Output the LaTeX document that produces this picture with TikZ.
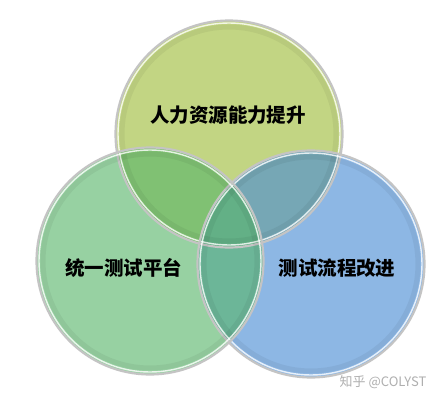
\documentclass[tikz,border=0pt]{standalone}
\usepackage{fontspec}
\newfontfamily\cjk{Noto Sans CJK SC}
\definecolor{ctop}{RGB}{158,188,55}
\definecolor{cleft}{RGB}{88,182,106}
\definecolor{cright}{RGB}{72,140,212}
\definecolor{rimgray}{RGB}{196,196,196}
\definecolor{wmgray}{RGB}{175,175,175}
\begin{document}
\begin{tikzpicture}[x=1pt,y=-1pt,
  disc/.style={circle, minimum size=226pt, inner sep=0pt, fill opacity=0.62},
  rim/.style={circle, minimum size=227pt, inner sep=0pt, draw=rimgray, line width=2.2pt},
  shine/.style={circle, minimum size=222pt, inner sep=0pt, draw=white, line width=1.4pt, draw opacity=0.8},
  inshade/.style={circle, minimum size=214pt, inner sep=0pt, draw=black, line width=5pt, draw opacity=0.05},
  lbl/.style={font=\cjk\bfseries\fontsize{19.5}{23}\selectfont, text=black, inner sep=0pt},
  wm/.style={font=\cjk\fontsize{13}{15}\selectfont, text=wmgray, inner sep=0pt}]
\useasboundingbox (0,0) rectangle (440,402);
\fill[white] (0,0) rectangle (440,402);
% fills
\node[disc, fill=ctop] (top) at (229,134) {};
\node[disc, fill=cright] (right) at (311,264) {};
\node[disc, fill=cleft] (left) at (150,261) {};
% inner shading and rims
\foreach \c in {top,right,left}{
  \node[inshade] at (\c.center) {};
  \node[rim] at (\c.center) {};
  \node[shine] at (\c.center) {};
}
% labels
\node[lbl] (ltop) at (228,115) {人力资源能力提升};
\node[lbl] (lleft) at (124,268) {统一测试平台};
\node[lbl] (lright) at (337,268) {测试流程改进};
\node[wm] (mark) at (383,382) {知乎 @COLYST};
\end{tikzpicture}
\end{document}
